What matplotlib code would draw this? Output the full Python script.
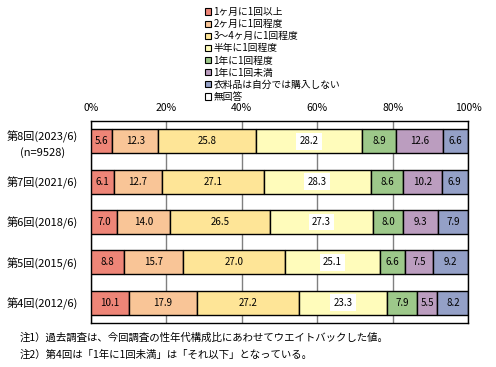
import matplotlib.pyplot as plt
from matplotlib.patches import Patch

plt.rcParams['font.family'] = ['Noto Sans CJK JP', 'DejaVu Sans']

# data
rounds = ["第8回(2023/6)\n(n=9528)", "第7回(2021/6)", "第6回(2018/6)",
          "第5回(2015/6)", "第4回(2012/6)"]
categories = ["1ヶ月に1回以上", "2ヶ月に1回程度", "3～4ヶ月に1回程度", "半年に1回程度",
              "1年に1回程度", "1年に1回未満", "衣料品は自分では購入しない", "無回答"]
monthly = [5.6, 6.1, 7.0, 8.8, 10.1]
bimonthly = [12.3, 12.7, 14.0, 15.7, 17.9]
quarterly = [25.8, 27.1, 26.5, 27.0, 27.2]
half_year = [28.2, 28.3, 27.3, 25.1, 23.3]
yearly = [8.9, 8.6, 8.0, 6.6, 7.9]
less_yearly = [12.6, 10.2, 9.3, 7.5, 5.5]
no_buy = [6.6, 6.9, 7.9, 9.2, 8.2]
no_answer = [0.0, 0.0, 0.0, 0.0, 0.0]
series = [monthly, bimonthly, quarterly, half_year, yearly, less_yearly, no_buy, no_answer]
colors = ["#ee8577", "#f9c597", "#fee597", "#fffcbb", "#9dc88a", "#bb9dbf", "#94a0c7", "#ffffff"]

fig = plt.figure(figsize=(4.96, 3.67), dpi=100)
ax = fig.add_axes([91/496, 1 - 323/367, 377/496, 202/367])

y = list(range(len(rounds)))
left = [0.0] * len(rounds)
for k, (vals, col) in enumerate(zip(series, colors)):
    ax.barh(y, vals, left=left, height=0.59, color=col, edgecolor="black", linewidth=1.0, zorder=3)
    for i, v in enumerate(vals):
        if v > 0:
            box = dict(boxstyle="square,pad=0.35", fc="white", ec="none") if k == 3 else None
            ax.text(left[i] + v / 2, i, f"{v:.1f}", ha="center", va="center",
                    fontsize=7, bbox=box, zorder=4)
    left = [a + b for a, b in zip(left, vals)]

ax.set_xlim(0, 100)
ax.set_ylim(4.5, -0.5)
ax.set_xticks([0, 20, 40, 60, 80, 100])
ax.set_xticklabels([f"{t}%" for t in [0, 20, 40, 60, 80, 100]], fontsize=7.5)
ax.xaxis.tick_top()
ax.tick_params(axis="x", length=0, pad=6)
ax.set_yticks(y)
ax.set_yticklabels(rounds, fontsize=8, linespacing=1.5, ha="center")
ax.tick_params(axis="y", length=0, pad=35)
ax.grid(axis="x", color="#808080", linewidth=1.0, zorder=0)
for s in ax.spines.values():
    s.set_linewidth(1.0)

handles = [Patch(facecolor=c, edgecolor="black", linewidth=0.8) for c in colors]
fig.legend(handles, categories, loc="upper left", bbox_to_anchor=(205/496, 1 - 7/367),
           frameon=False, fontsize=7, handlelength=0.6, handleheight=0.6,
           handletextpad=0.25, labelspacing=0.22, borderaxespad=0, borderpad=0)

fig.text(20/496, 1 - 338/367, "注1）過去調査は、今回調査の性年代構成比にあわせてウエイトバックした値。",
         fontsize=7.5, va="center")
fig.text(20/496, 1 - 355/367, "注2）第4回は「1年に1回未満」は「それ以下」となっている。",
         fontsize=7.5, va="center")

fig.savefig("out.png", dpi=100)
